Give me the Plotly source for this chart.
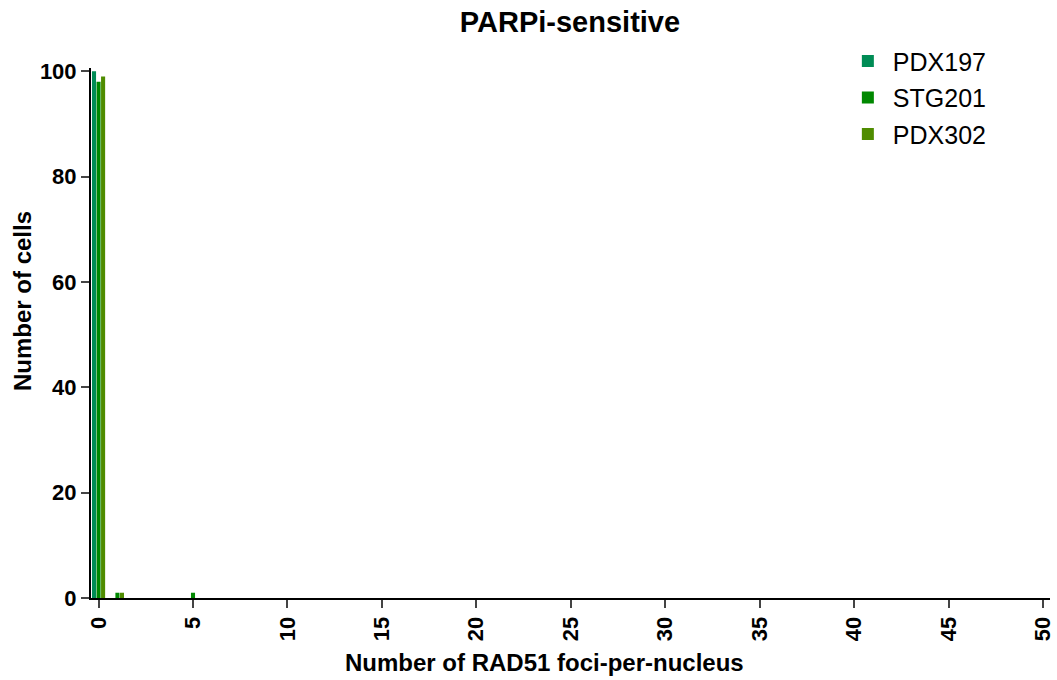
import plotly.graph_objects as go

series_names = ["PDX197", "STG201", "PDX302"]
x_pdx197 = [0]
y_pdx197 = [100]
x_stg201 = [0, 1, 5]
y_stg201 = [98, 1, 1]
x_pdx302 = [0, 1]
y_pdx302 = [99, 1]
colors = ["#008C55", "#008800", "#4F8C00"]
x_ticks = [0, 5, 10, 15, 20, 25, 30, 35, 40, 45, 50]
y_ticks = [0, 20, 40, 60, 80, 100]

FONT = "Liberation Sans, Arial"
L, R, T, B = 91, 7, 68, 82
W, H = 1057, 680
pw, ph = W - L - R, H - T - B

fig = go.Figure()
for name, xs, ys, c in zip(series_names, [x_pdx197, x_stg201, x_pdx302],
                           [y_pdx197, y_stg201, y_pdx302], colors):
    fig.add_trace(go.Bar(x=xs, y=ys, name=name, legendgroup=name,
                         marker=dict(color=c, line=dict(width=0))))

fig.update_layout(
    barmode="group",
    bargap=0.28,
    bargroupgap=0.1,
    width=W, height=H,
    margin=dict(l=L, r=R, t=T, b=B),
    paper_bgcolor="white", plot_bgcolor="white",
    font=dict(family=FONT, color="black"),
    title=dict(text="PARPi-sensitive", x=570 / W, xanchor="center",
               y=1 - 22 / H, yanchor="middle",
               font=dict(size=29, weight="bold", family=FONT)),
    xaxis=dict(range=[-0.4, 50.37], tickvals=x_ticks, ticks="outside", ticklen=8, tickwidth=2,
               showline=True, linewidth=2, linecolor="black", showgrid=False, zeroline=False,
               tickangle=-90, automargin=False,
               tickfont=dict(size=22, weight="bold", family=FONT)),
    yaxis=dict(range=[0, 100.6], tickvals=y_ticks, ticks="outside", ticklen=8, tickwidth=2,
               showline=True, linewidth=2, linecolor="black", showgrid=False, zeroline=False,
               automargin=False,
               tickfont=dict(size=22, weight="bold", family=FONT)),
    legend=dict(x=0.784, y=1.056, xanchor="left", yanchor="top",
                font=dict(size=25, family=FONT),
                bgcolor="rgba(0,0,0,0)", tracegroupgap=1, itemwidth=40),
    annotations=[
        dict(text="Number of RAD51 foci-per-nucleus", xref="paper", yref="paper",
             x=(544 - L) / pw, y=-(662 - (T + ph)) / ph, xanchor="center", yanchor="middle",
             showarrow=False, font=dict(size=24, weight="bold", family=FONT)),
        dict(text="Number of cells", xref="paper", yref="paper", textangle=-90,
             x=-(L - 22) / pw, y=1 - (301 - T) / ph, xanchor="center", yanchor="middle",
             showarrow=False, font=dict(size=24, weight="bold", family=FONT)),
    ],
)
fig.write_html("out.html", config={"displayModeBar": False},
               post_script="document.body.style.margin='0px';document.body.style.overflow='hidden';")
